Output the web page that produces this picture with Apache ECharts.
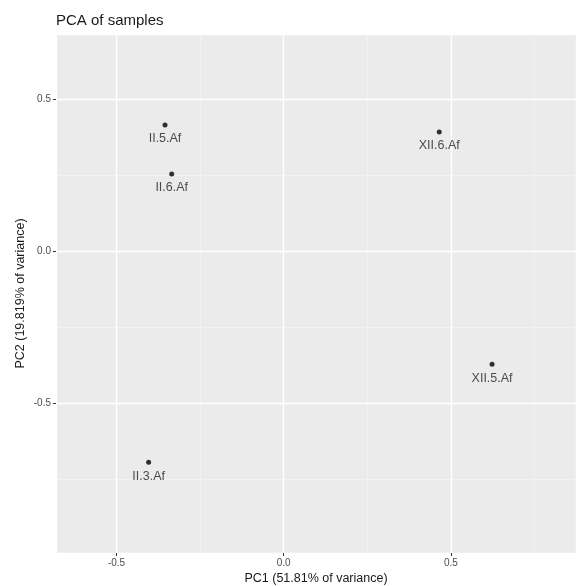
<!DOCTYPE html>
<html>
<head>
<meta charset="utf-8">
<script src="https://cdn.jsdelivr.net/npm/echarts@6/dist/echarts.min.js"></script>
<style>
  html, body { margin: 0; padding: 0; background: #fff; }
  #chart { width: 576px; height: 586px; }
</style>
</head>
<body>
<div id="chart"></div>
<script>
const sampleNames = ['II.5.Af', 'II.6.Af', 'XII.6.Af', 'XII.5.Af', 'II.3.Af']
const pc1 = [-0.355, -0.335, 0.465, 0.623, -0.404]
const pc2 = [0.414, 0.253, 0.391, -0.372, -0.694]
const xRange = [-0.681, 0.874]
const yRange = [-0.992, 0.713]

const chart = echarts.init(document.getElementById('chart'))
const font = 'Liberation Sans, Arial, sans-serif'

const fmt = v => (Math.abs(v * 2 - Math.round(v * 2)) < 1e-6 ? v.toFixed(1) : '')

// major axis: labels, ticks, thick grid lines
const majorAxis = (range, pos, name, gap) => ({
  type: 'value',
  position: pos,
  min: range[0],
  max: range[1],
  splitNumber: 3,
  minInterval: 0.5,
  maxInterval: 0.5,
  name: name,
  nameLocation: 'middle',
  nameGap: gap,
  nameMoveOverlap: false,
  nameTextStyle: { color: '#1a1a1a', fontSize: 12.5, fontFamily: font },
  axisLine: { show: false, onZero: false },
  axisTick: { show: true, length: 3, lineStyle: { color: '#333', width: 1 } },
  axisLabel: {
    color: '#4d4d4d', fontSize: 10, fontFamily: font, margin: 5,
    showMinLabel: false, showMaxLabel: false, formatter: fmt,
  },
  splitLine: { show: true, lineStyle: { color: '#fff', width: 1.4 } },
})

// minor axis: only thin grid lines
const minorAxis = (range, pos) => ({
  type: 'value',
  position: pos,
  min: range[0],
  max: range[1],
  splitNumber: 6,
  minInterval: 0.25,
  maxInterval: 0.25,
  axisLine: { show: false, onZero: false },
  axisTick: { show: false },
  axisLabel: { show: false },
  splitLine: { show: true, lineStyle: { color: '#f5f5f5', width: 0.7 } },
})

const option = {
  animation: false,
  backgroundColor: '#fff',
  title: {
    text: 'PCA of samples',
    left: 51,
    top: 8,
    textStyle: { color: '#1a1a1a', fontSize: 15, fontWeight: 'normal', fontFamily: font },
  },
  grid: {
    left: 56, right: 0, top: 34, bottom: 33,
    outerBoundsMode: 'none',
    containLabel: false,
    show: true, backgroundColor: '#ebebeb', borderWidth: 0,
  },
  xAxis: [minorAxis(xRange, 'bottom'), majorAxis(xRange, 'bottom', 'PC1 (51.81% of variance)', 19)],
  yAxis: [minorAxis(yRange, 'left'), majorAxis(yRange, 'left', 'PC2 (19.819% of variance)', 29)],
  series: [
    {
      type: 'scatter',
      xAxisIndex: 1,
      yAxisIndex: 1,
      symbolSize: 5,
      itemStyle: { color: '#000' },
      label: {
        show: true,
        position: 'bottom',
        distance: 5,
        color: '#222',
        fontSize: 12.5,
        fontFamily: font,
        formatter: p => p.data[2],
      },
      data: sampleNames.map((n, i) => [pc1[i], pc2[i], n]),
    },
  ],
}
chart.setOption(option)
</script>
</body>
</html>
